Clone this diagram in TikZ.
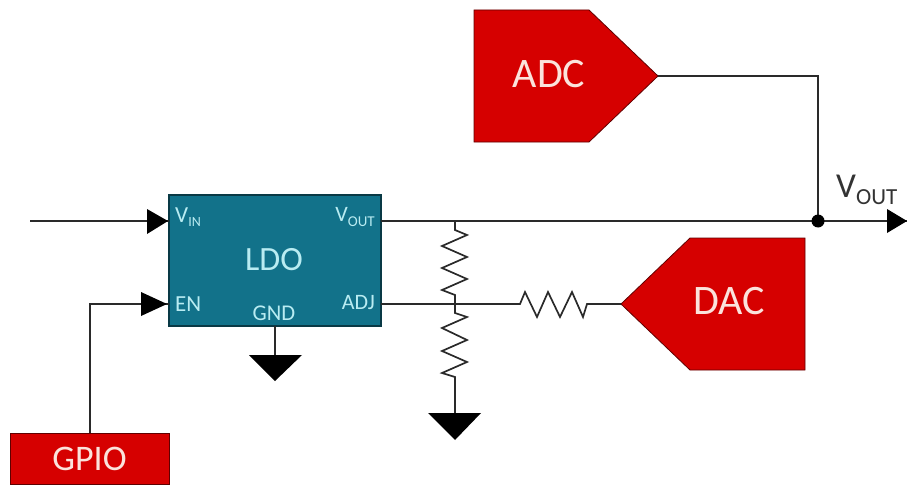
\documentclass[tikz,border=0pt]{standalone}
\usepackage{fontspec}
\setmainfont{Carlito}
\usetikzlibrary{calc}
\definecolor{tired}{HTML}{D60000}
\definecolor{teal}{HTML}{12728A}
\definecolor{pinlab}{HTML}{B9ECF2}
\definecolor{wirec}{HTML}{2A2A2A}
\definecolor{redtxt}{HTML}{FBE3DC}
\tikzset{
  x=1pt,y=-1pt,
  wire/.style={draw=wirec,line width=1.7pt,line join=miter},
  wirebold/.style={draw=wirec,line width=2.2pt},
  redbox/.style={fill=tired,draw=black!55!tired,line width=0.8pt},
  gndtri/.style={fill=black,draw=none},
  headtri/.style={fill=black,draw=none},
  pin/.style={text=pinlab,inner sep=0pt},
  bigt/.style={text=redtxt,inner sep=0pt,font=\fontsize{42}{42}\selectfont},
}
\begin{document}
\begin{tikzpicture}
\useasboundingbox (0,0) rectangle (907,487);
% anchors
\coordinate (inL) at (30,221);
\coordinate (outTip) at (907,221);
\coordinate (gpioUp) at (90,304);
\coordinate (jTop) at (455,221);
\coordinate (jMid) at (455,304);
\coordinate (gnd1) at (275,355);
\coordinate (gnd2) at (455,413);
\coordinate (adcTip) at (658,76);
\coordinate (dacTip) at (621,304);
\coordinate (corner) at (818,76);

% LDO
\node[draw=black!50!teal,fill=teal,line width=1.2pt,minimum width=212pt,minimum height=131pt,inner sep=0pt,outer sep=0pt,anchor=north west] (ldo) at (169,195) {};
\coordinate (ldoVin) at (169,221);
\coordinate (ldoEn) at (169,304);
\coordinate (ldoVout) at (381,221);
\coordinate (ldoAdj) at (381,304);
\coordinate (ldoGnd) at (275,326);
\node[pin,font=\fontsize{34}{34}\selectfont] (ldot) at (274,260) {LDO};
\node[pin,anchor=west,font=\fontsize{23}{23}\selectfont] (vin) at (175,217) {V\raisebox{-0.2em}{\fontsize{14}{14}\selectfont IN}};
\node[pin,anchor=east,font=\fontsize{22}{22}\selectfont] (vout) at (375,217) {V\raisebox{-0.2em}{\fontsize{15}{15}\selectfont OUT}};
\node[pin,anchor=west,font=\fontsize{23}{23}\selectfont] (en) at (175,304) {EN};
\node[pin,anchor=east,font=\fontsize{22}{22}\selectfont] (adj) at (375,303) {ADJ};
\node[pin,font=\fontsize{22.5}{22.5}\selectfont] (gnd) at (274,313) {GND};

% ADC, DAC, GPIO
\draw[redbox] (474,10) -- (589,10) -- (adcTip) -- (589,142) -- (474,142) -- cycle;
\node[bigt] (adct) at (549,74) {ADC};
\draw[redbox] (805,238) -- (690,238) -- (dacTip) -- (690,370) -- (805,370) -- cycle;
\node[bigt] (dact) at (729,301) {DAC};
\node[fill=tired,draw=black!55!tired,line width=0.8pt,minimum width=159pt,minimum height=51pt,inner sep=0pt,outer sep=0pt,anchor=north west,text=redtxt,font=\fontsize{36}{36}\selectfont] (gpio) at (10,433) {GPIO};

% wires
\draw[wire] (inL) -- (ldoVin);
\draw[wire] (gpio.north -| gpioUp) -- (gpioUp) -- (ldoEn);
\draw[wirebold] (ldoVout) -- (outTip);
\draw[wire] (ldoAdj) -- (jMid) -- (520,304) -- (525,292) -- (537,317) -- (548,292) -- (560,317) -- (572,292) -- (583,317) -- (587,304) -- (dacTip);
\draw[wire] (ldoGnd) -- (gnd1);
\draw[wire] (adcTip) -- (corner) -- (818,221);
\draw[wire] (jTop) -- (455,230) -- (467,235) -- (442,246) -- (467,257) -- (442,268) -- (467,279) -- (442,290) -- (455,295) -- (jMid) -- (455,313) -- (467,317) -- (442,328) -- (467,340) -- (442,351) -- (467,362) -- (442,373) -- (455,377) -- (gnd2);

% arrowheads, ground, dot
\fill[headtri] (147,209) -- (168,221) -- (147,234) -- cycle;
\fill[headtri] (141,292) -- (167,304) -- (141,316) -- cycle;
\fill[headtri] (887,209) -- (outTip) -- (887,233) -- cycle;
\fill[gndtri] (249,355) -- (302,355) -- (275,381) -- cycle;
\fill[gndtri] (428,413) -- (481,413) -- (455,440) -- cycle;
\fill[black] (818,221) circle (6.5);
\node[text=black!80,inner sep=0pt,anchor=west,font=\fontsize{35}{35}\selectfont] (voutl) at (836,190) {V\raisebox{-0.2em}{\fontsize{23}{23}\selectfont OUT}};
\end{tikzpicture}
\end{document}
